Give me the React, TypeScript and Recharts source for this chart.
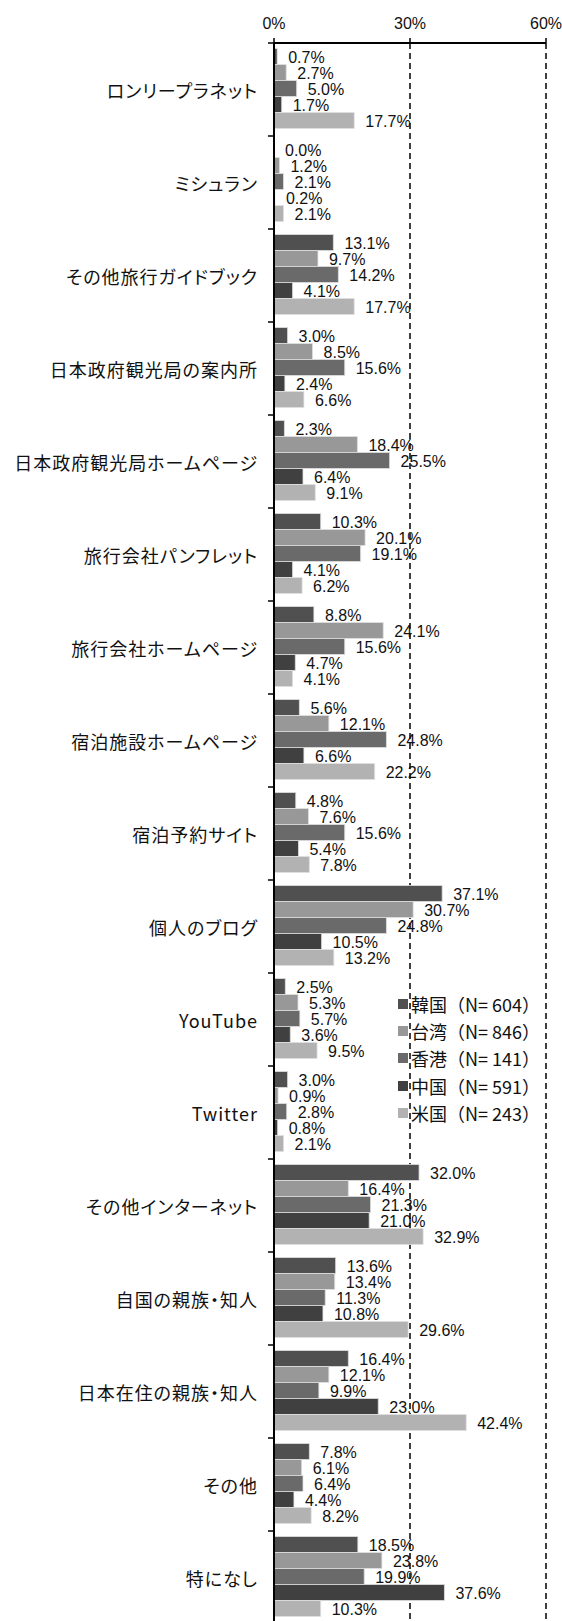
import React from 'react';
import { BarChart, Bar, XAxis, YAxis, CartesianGrid, LabelList, Legend } from 'recharts';

const categories = [
  'ロンリープラネット',
  'ミシュラン',
  'その他旅行ガイドブック',
  '日本政府観光局の案内所',
  '日本政府観光局ホームページ',
  '旅行会社パンフレット',
  '旅行会社ホームページ',
  '宿泊施設ホームページ',
  '宿泊予約サイト',
  '個人のブログ',
  'YouTube',
  'Twitter',
  'その他インターネット',
  '自国の親族・知人',
  '日本在住の親族・知人',
  'その他',
  '特になし',
];

const korea = [0.7, 0.0, 13.1, 3.0, 2.3, 10.3, 8.8, 5.6, 4.8, 37.1, 2.5, 3.0, 32.0, 13.6, 16.4, 7.8, 18.5];
const taiwan = [2.7, 1.2, 9.7, 8.5, 18.4, 20.1, 24.1, 12.1, 7.6, 30.7, 5.3, 0.9, 16.4, 13.4, 12.1, 6.1, 23.8];
const hongkong = [5.0, 2.1, 14.2, 15.6, 25.5, 19.1, 15.6, 24.8, 15.6, 24.8, 5.7, 2.8, 21.3, 11.3, 9.9, 6.4, 19.9];
const china = [1.7, 0.2, 4.1, 2.4, 6.4, 4.1, 4.7, 6.6, 5.4, 10.5, 3.6, 0.8, 21.0, 10.8, 23.0, 4.4, 37.6];
const usa = [17.7, 2.1, 17.7, 6.6, 9.1, 6.2, 4.1, 22.2, 7.8, 13.2, 9.5, 2.1, 32.9, 29.6, 42.4, 8.2, 10.3];

const seriesKeys = ['kr', 'tw', 'hk', 'cn', 'us'];
const seriesNames = ['韓国（N= 604）', '台湾（N= 846）', '香港（N= 141）', '中国（N= 591）', '米国（N= 243）'];
const xTicks = [0, 30, 60];

const seriesColors = ['#505050', '#989898', '#6a6a6a', '#404040', '#b2b2b2'];

const data = categories.map((name, i) => ({
  name,
  kr: korea[i],
  tw: taiwan[i],
  hk: hongkong[i],
  cn: china[i],
  us: usa[i],
}));

const CHART_W = 562;
const CHART_H = 1630;
const MARGIN = { top: 13, right: 16, bottom: 6, left: 0 };
const X_AXIS_H = 30;
const Y_AXIS_W = 274;
const PLOT_H = CHART_H - MARGIN.top - MARGIN.bottom - X_AXIS_H;
const BAND = PLOT_H / categories.length;
const AXIS_X = MARGIN.left + Y_AXIS_W;

const LATIN = '"Liberation Sans", Arial, sans-serif';
const CJK = '"Noto Sans CJK JP", "Noto Sans", sans-serif';

const YTick = (props: any) => {
  const { x, y, payload, index } = props;
  return (
    <g>
      <line x1={AXIS_X - 6} x2={AXIS_X} y1={y - BAND / 2} y2={y - BAND / 2} stroke="#000" strokeWidth={1.5} />
      {index === categories.length - 1 && (
        <line x1={AXIS_X - 6} x2={AXIS_X} y1={y + BAND / 2} y2={y + BAND / 2} stroke="#000" strokeWidth={1.5} />
      )}
      <text
        x={x + 1}
        y={y}
        textAnchor="end"
        dominantBaseline="central"
        fontSize={18}
        fontFamily={CJK}
        fill="#111"
        letterSpacing={1}
        style={{ fontFeatureSettings: '"palt" 1' }}
      >
        {payload.value}
      </text>
    </g>
  );
};

const ValueLabel = (props: any) => {
  const { x, y, width, height, value } = props;
  if (value === undefined || value === null) return null;
  const w = Number(width) || 0;
  return (
    <text
      x={Number(x) + (w < 0.5 ? 0 : w) + 11}
      y={Number(y) + Number(height) / 2 + 1}
      dominantBaseline="central"
      fontSize={16}
      fontFamily={LATIN}
      fill="#111"
    >
      {Number(value).toFixed(1)}%
    </text>
  );
};

const LegendContent = (props: any) => {
  const { payload } = props;
  const items = [...(payload || [])].sort(
    (a: any, b: any) => seriesNames.indexOf(a.value) - seriesNames.indexOf(b.value)
  );
  return (
    <div style={{ display: 'flex', flexDirection: 'column' }}>
      {items.map((p: any) => (
        <div key={p.value} style={{ display: 'flex', alignItems: 'center', height: 27.3 }}>
          <span style={{ display: 'inline-block', width: 10, height: 10, background: p.color, marginRight: 3 }} />
          <span style={{ fontSize: 18, fontFamily: CJK, color: '#111', whiteSpace: 'nowrap', lineHeight: '18px' }}>{p.value}</span>
        </div>
      ))}
    </div>
  );
};

export default function App() {
  return (
    <div style={{ position: 'absolute', left: 0, top: 0, width: 562, height: 1621, overflow: 'hidden', background: '#fff' }}>
      <BarChart
        width={CHART_W}
        height={CHART_H}
        data={data}
        layout="vertical"
        margin={MARGIN}
        barCategoryGap={5.5}
        barGap={0}
      >
        <CartesianGrid horizontal={false} vertical stroke="#000" strokeWidth={1.5} strokeDasharray="6 4" />
        <XAxis
          type="number"
          orientation="top"
          domain={[0, 60]}
          ticks={xTicks}
          height={X_AXIS_H}
          tickFormatter={(v: number) => `${v}%`}
          axisLine={{ stroke: '#000', strokeWidth: 2 }}
          tickLine={{ stroke: '#000', strokeWidth: 1.5 }}
          tickSize={5}
          tickMargin={9}
          tick={{ fontSize: 16, fontFamily: LATIN, fill: '#111' }}
          interval={0}
        />
        <YAxis
          type="category"
          dataKey="name"
          width={Y_AXIS_W}
          interval={0}
          axisLine={{ stroke: '#000', strokeWidth: 2 }}
          tickLine={false}
          tickSize={6}
          tickMargin={11}
          tick={<YTick />}
        />
        <Legend
          layout="horizontal"
          verticalAlign="middle"
          align="center"
          content={<LegendContent />}
          wrapperStyle={{ position: 'absolute', left: 398, top: 990, width: 'auto', height: 'auto' }}
        />
        {seriesKeys.map((k, i) => (
          <Bar
            key={k}
            dataKey={k}
            name={seriesNames[i]}
            fill={seriesColors[i]}
            stroke="#e0e0e0"
            strokeWidth={0.8}
            minPointSize={0.01}
            isAnimationActive={false}
          >
            <LabelList dataKey={k} content={<ValueLabel />} />
          </Bar>
        ))}
      </BarChart>
    </div>
  );
}
